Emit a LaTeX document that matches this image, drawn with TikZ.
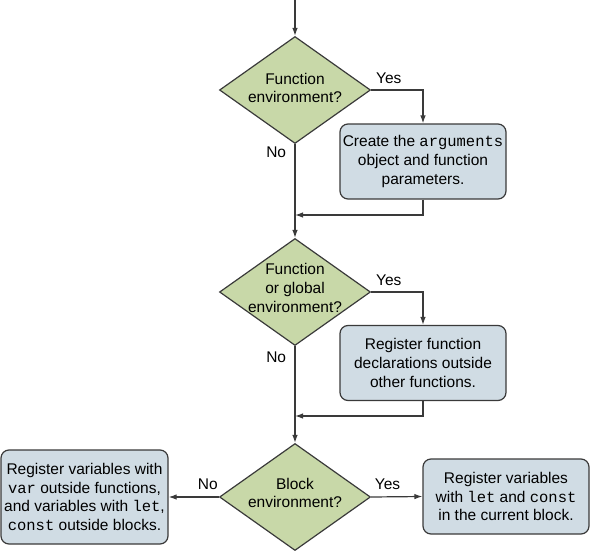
\documentclass[tikz,border=0pt]{standalone}
\usepackage{fontspec}
\setmainfont{Liberation Sans}
\setmonofont{Liberation Mono}
\usepackage{tikz}
\usetikzlibrary{arrows.meta,positioning,shapes.geometric}
\usepackage{xcolor}
\definecolor{decision}{HTML}{C8D8A8}
\definecolor{action}{HTML}{D0DCE4}
\definecolor{edge}{HTML}{3A3A3A}

\begin{document}
\begin{tikzpicture}[
  x=1pt,y=-1pt,
  every node/.style={font=\fontsize{15.5}{18.7}\selectfont,text=black},
  dia/.style={draw=edge,line width=1.2pt,fill=decision,diamond,inner sep=0pt,minimum width=151pt,minimum height=107pt},
  box/.style={draw=edge,line width=1.2pt,fill=action,rounded corners=8pt,align=center,minimum width=166pt,minimum height=75pt,inner sep=0pt},
  flow/.style={draw=edge,line width=1.2pt,-{Latex[length=8pt,width=5.5pt]}},
  line/.style={draw=edge,line width=1.2pt},
]
  \useasboundingbox (0,0) rectangle (590,552);

  % Entry
  \coordinate (start) at (295,0);

  % Function environment
  \node[dia] (d1) at (295,90) {};
  \node[align=center] (t1) at (295,88) {Function\\environment?};
  \node[box] (b1) at (423,161.5) {Create the \texttt{arguments}\\object and function\\parameters.};
  \coordinate (m1) at (295,215);

  % Function or global environment
  \node[dia] (d2) at (295,292) {};
  \node[align=center] (t2) at (295,288) {Function\\or global\\environment?};
  \node[box] (b2) at (423,363) {Register function\\declarations outside\\other functions.};
  \coordinate (m2) at (295,416);

  % Block environment
  \node[dia] (d3) at (295,497) {};
  \node[align=center] (t3) at (295,493) {Block\\environment?};
  \node[box,minimum width=167pt,minimum height=94pt] (b3) at (84.5,497) {Register variables with\\\texttt{var} outside functions,\\and variables with \texttt{let},\\\texttt{const} outside blocks.};
  \node[box] (b4) at (506,496.5) {Register variables\\with \texttt{let} and \texttt{const}\\in the current block.};

  % Arrows
  \draw[flow] (start) -- (d1.north);
  \draw[flow] (d1.east) -| (b1.north) node[pos=0.17,above=2pt] (y1) {Yes};
  \draw[line] (d1.south) -- (m1) node[pos=0.12,left=5pt] (n1) {No};
  \draw[flow] (b1.south) |- (m1);
  \draw[flow] (m1) -- (d2.north);

  \draw[flow] (d2.east) -| (b2.north) node[pos=0.17,above=2pt] (y2) {Yes};
  \draw[line] (d2.south) -- (m2) node[pos=0.16,left=5pt] (n2) {No};
  \draw[flow] (b2.south) |- (m2);
  \draw[flow] (m2) -- (d3.north);

  \draw[flow] (d3.west) -- (b3.east) node[pos=0.22,above=3pt] (n3) {No};
  \draw[flow] (d3.east) -- (b4.west) node[pos=0.32,above=3pt] (y3) {Yes};
\end{tikzpicture}
\end{document}
